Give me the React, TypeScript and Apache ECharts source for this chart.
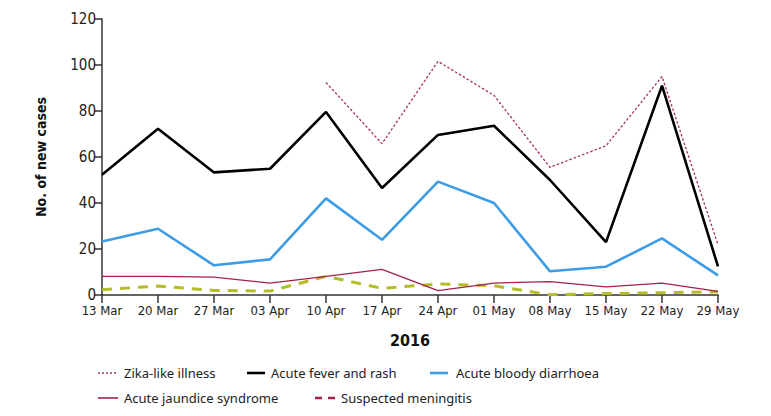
import React, { useEffect, useRef } from "react";
import * as echarts from "echarts";

const weeks = ["13 Mar", "20 Mar", "27 Mar", "03 Apr", "10 Apr", "17 Apr", "24 Apr", "01 May", "08 May", "15 May", "22 May", "29 May"];
const zikaLike = [null, null, null, null, 92.4, 65.8, 101.6, 86.8, 55.5, 64.9, 95, 21.9];
const feverRash = [52.3, 72.3, 53.3, 54.9, 79.6, 46.5, 69.6, 73.6, 50, 23, 91, 12.4];
const bloodyDiarrhoea = [23.3, 28.8, 12.9, 15.5, 42, 24, 49.3, 40, 10.3, 12.3, 24.6, 8.5];
const jaundice = [8.1, 8.1, 7.8, 5.2, 8.1, 11.1, 1.9, 5.2, 5.8, 3.5, 5.2, 1.6];
const meningitis = [2.3, 3.9, 2.0, 1.7, 8.1, 2.9, 4.8, 4.0, 0.1, 0.6, 1.0, 1.4];
const yTicks = { min: 0, max: 120, interval: 20 };
const seriesNames = ["Zika-like illness", "Acute fever and rash", "Acute bloody diarrhoea", "Acute jaundice syndrome", "Suspected meningitis"];

const NARROW = "'DejaVu Sans Condensed', 'Liberation Sans Narrow', 'Noto Sans', sans-serif";
const LEGEND_FONT = "'Noto Sans', sans-serif";

const ZIKA = "#a3305e";
const FEVER = "#000000";
const BLUE = "#3d9ce6";
const JAUN = "#a3214a";
const MENING = "#b6bb28";

function legendItem(x1: number, x2: number, y: number, textX: number, label: string, stroke: string, lineWidth: number, lineDash?: number[]) {
  return [
    {
      type: "line",
      shape: { x1, y1: y, x2, y2: y },
      style: { stroke, lineWidth, lineDash: lineDash || null },
    },
    {
      type: "text",
      x: textX,
      y,
      style: { text: label, fontFamily: LEGEND_FONT, fontSize: 13, fill: "#222", verticalAlign: "middle", align: "left" },
    },
  ];
}

export default function App() {
  const ref = useRef<HTMLDivElement>(null);
  useEffect(() => {
    if (!ref.current) return;
    const chart = echarts.init(ref.current, null, { renderer: "svg" });
    const graphic = [
      ...legendItem(98, 118, 373, 124, seriesNames[0], ZIKA, 1.3, [2, 2]),
      ...legendItem(247, 265, 373, 271, seriesNames[1], FEVER, 2.6),
      ...legendItem(430, 448, 373, 456, seriesNames[2], BLUE, 2.6),
      ...legendItem(98, 118, 398, 124, seriesNames[3], JAUN, 1.6),
      ...legendItem(315, 336, 398, 341, seriesNames[4], JAUN, 2.6, [7, 6]),
    ];
    chart.setOption({
      animation: false,
      backgroundColor: "#fff",
      grid: { left: 102, right: 53, top: 19, bottom: 121, containLabel: false },
      graphic,
      xAxis: {
        type: "category",
        data: weeks,
        boundaryGap: false,
        name: "2016",
        nameLocation: "middle",
        nameGap: 37,
        nameTextStyle: { fontFamily: NARROW, fontWeight: "bold", fontSize: 16, color: "#111" },
        axisLine: { lineStyle: { color: "#333", width: 1.5 } },
        axisTick: { alignWithLabel: true, length: 8, lineStyle: { color: "#333", width: 1.5 } },
        axisLabel: { fontFamily: NARROW, fontSize: 13, color: "#222", margin: 9, interval: 0 },
        splitLine: { show: false },
      },
      yAxis: {
        type: "value",
        ...yTicks,
        name: "No. of new cases",
        nameLocation: "middle",
        nameGap: 54,
        nameTextStyle: { fontFamily: NARROW, fontWeight: "bold", fontSize: 14, color: "#111" },
        axisLine: { show: true, lineStyle: { color: "#333", width: 1.5 } },
        axisTick: { show: true, length: 8, lineStyle: { color: "#333", width: 1.5 } },
        axisLabel: { fontFamily: NARROW, fontSize: 15, color: "#222", margin: 6 },
        splitLine: { show: false },
      },
      series: [
        {
          name: seriesNames[0],
          type: "line",
          data: zikaLike,
          symbol: "none",
          connectNulls: false,
          lineStyle: { color: ZIKA, width: 1.3, type: [2.5, 2] },
          z: 5,
        },
        {
          name: seriesNames[1],
          type: "line",
          data: feverRash,
          symbol: "none",
          lineStyle: { color: FEVER, width: 2.6 },
          z: 4,
        },
        {
          name: seriesNames[2],
          type: "line",
          data: bloodyDiarrhoea,
          symbol: "none",
          lineStyle: { color: BLUE, width: 2.6 },
          z: 3,
        },
        {
          name: seriesNames[3],
          type: "line",
          data: jaundice,
          symbol: "none",
          lineStyle: { color: JAUN, width: 1.3 },
          z: 2,
        },
        {
          name: seriesNames[4],
          type: "line",
          data: meningitis,
          symbol: "none",
          lineStyle: { color: MENING, width: 3, type: [10, 8] },
          z: 1,
        },
      ],
    });
    return () => chart.dispose();
  }, []);
  return <div ref={ref} style={{ width: 771, height: 416, position: "absolute", left: 0, top: 0 }} />;
}
